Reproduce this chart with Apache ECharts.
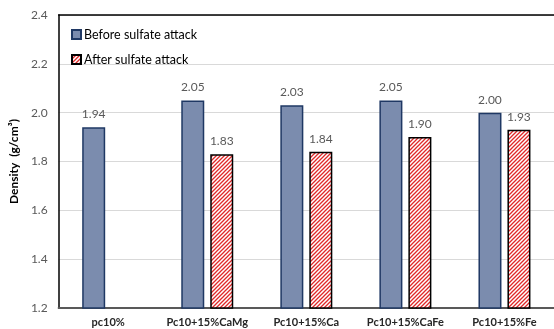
<!DOCTYPE html>
<html>
<head>
<meta charset="utf-8">
<style>
  html, body { margin: 0; padding: 0; background: #ffffff; }
  #chart { width: 554px; height: 329px; }
</style>
<script src="https://cdn.jsdelivr.net/npm/echarts@6/dist/echarts.min.js"></script>
</head>
<body>
<div id="chart"></div>
<script>
// Mix designs and measured densities (g/cm³)
const categories = ['pc10%', 'Pc10+15%CaMg', 'Pc10+15%Ca', 'Pc10+15%CaFe', 'Pc10+15%Fe'];
const beforeAttack = [1.94, 2.05, 2.03, 2.05, 2.00];
const afterAttack = [null, 1.83, 1.84, 1.90, 1.93];
const yTicks = [1.2, 1.4, 1.6, 1.8, 2.0, 2.2, 2.4];

// Diagonal red hatch used for the "after" bars
function makeHatch() {
  const c = document.createElement('canvas');
  c.width = 4; c.height = 4;
  const g = c.getContext('2d');
  g.fillStyle = '#ffffff';
  g.fillRect(0, 0, 4, 4);
  g.strokeStyle = '#e02828';
  g.lineWidth = 1.3;
  g.beginPath();
  g.moveTo(-1, 5); g.lineTo(5, -1);
  g.moveTo(-1, 1); g.lineTo(1, -1);
  g.moveTo(3, 5); g.lineTo(5, 3);
  g.stroke();
  return c;
}

const chart = echarts.init(document.getElementById('chart'), null, { renderer: 'canvas' });
const font = 'Lato, "Liberation Sans", sans-serif';

chart.setOption({
  animation: false,
  textStyle: { fontFamily: font },
  grid: { left: 54, right: 0, top: 15, bottom: 21, containLabel: false },
  legend: {
    orient: 'vertical',
    left: 66,
    top: 23,
    icon: 'rect',
    itemWidth: 9,
    itemHeight: 9,
    itemGap: 12,
    textStyle: { fontSize: 12.5, color: '#000000', fontFamily: font, padding: [0, 0, 0, -2] },
    data: ['Before sulfate attack', 'After sulfate attack']
  },
  xAxis: [
    {
      type: 'category',
      data: categories,
      axisLine: { lineStyle: { color: '#595959', width: 2 } },
      axisTick: { show: false },
      axisLabel: { fontSize: 11, fontWeight: 'bold', color: '#262626', margin: 9, interval: 0 }
    },
    {
      type: 'category',
      position: 'top',
      data: categories,
      axisLine: { lineStyle: { color: '#000000', width: 1.5 } },
      axisTick: { show: false },
      axisLabel: { show: false }
    }
  ],
  yAxis: {
    type: 'value',
    min: yTicks[0],
    max: yTicks[yTicks.length - 1],
    interval: 0.2,
    name: 'Density  (g/cm³)',
    nameLocation: 'middle',
    nameGap: 36,
    nameTextStyle: { fontSize: 12, fontWeight: 'bold', color: '#000000' },
    axisLine: { show: true, lineStyle: { color: '#000000', width: 1.5 } },
    axisTick: { show: false },
    axisLabel: {
      fontSize: 12, color: '#595959', margin: 11,
      formatter: v => v.toFixed(1)
    },
    splitLine: { lineStyle: { color: '#d9d9d9', width: 1 } }
  },
  series: [
    {
      name: 'Before sulfate attack',
      type: 'bar',
      data: beforeAttack,
      barWidth: 23,
      barGap: '26%',
      itemStyle: { color: '#7b8cae', borderColor: '#1f3864', borderWidth: 1.5, borderRadius: 0 },
      label: {
        show: true, position: 'top', distance: 7,
        fontSize: 12, color: '#595959',
        formatter: p => p.value.toFixed(2)
      }
    },
    {
      name: 'After sulfate attack',
      type: 'bar',
      data: afterAttack,
      barWidth: 23,
      itemStyle: {
        color: { image: makeHatch(), repeat: 'repeat' },
        borderColor: '#000000', borderWidth: 1.5, borderRadius: 0
      },
      label: {
        show: true, position: 'top', distance: 7,
        fontSize: 12, color: '#595959',
        formatter: p => (p.value == null ? '' : p.value.toFixed(2))
      }
    }
  ]
});
</script>
</body>
</html>
